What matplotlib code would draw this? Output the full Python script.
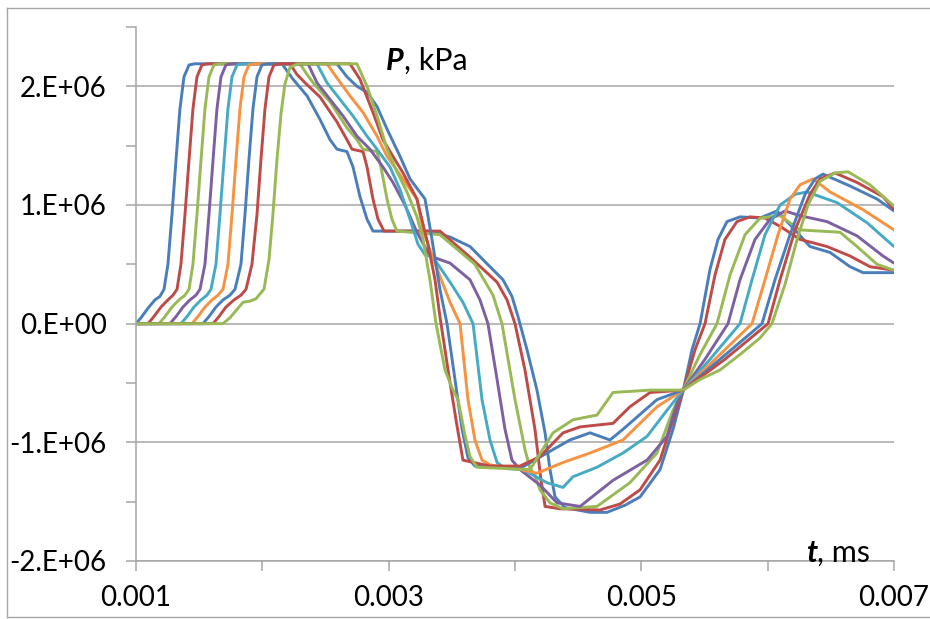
import numpy as np
import matplotlib
matplotlib.use("Agg")
import matplotlib.pyplot as plt
from matplotlib.lines import Line2D

plt.rcParams["font.family"] = ["Lato", "DejaVu Sans"]

# время в единицах 1e-3 мс, давление в единицах 1e6 кПа
t0 = [1.000, 1.040, 1.095, 1.150, 1.190, 1.222, 1.253, 1.285, 1.317, 1.348, 1.380, 1.420, 1.467,
      2.156, 2.195, 2.243, 2.354, 2.457, 2.536, 2.591, 2.670, 2.718, 2.773, 2.829, 2.876,
      3.129, 3.327, 3.486, 3.644, 3.802, 3.905, 3.976, 4.024, 4.095, 4.174, 4.238, 4.277, 4.317,
      4.396, 4.594, 4.728, 4.871, 4.990, 5.148, 5.251, 5.330,
      5.401, 5.465, 5.544, 5.607, 5.678, 5.781, 5.940, 6.074, 6.233, 6.335, 6.494, 6.652, 6.755, 7.000]
p0 = [0, 0.05, 0.13, 0.20, 0.23, 0.29, 0.50, 0.92, 1.38, 1.81, 2.08, 2.18, 2.19,
      2.19, 2.13, 2.06, 1.92, 1.72, 1.55, 1.47, 1.45, 1.32, 1.07, 0.88, 0.78,
      0.78, 0.78, 0.73, 0.65, 0.48, 0.37, 0.23, 0.06, -0.22, -0.56, -0.92, -1.23, -1.46,
      -1.55, -1.59, -1.59, -1.53, -1.46, -1.23, -0.89, -0.57,
      -0.22, 0, 0.46, 0.71, 0.86, 0.90, 0.89, 0.95, 0.77, 0.65, 0.60, 0.48, 0.43, 0.43]

t1 = [1.000, 1.095, 1.142, 1.198, 1.253, 1.293, 1.325, 1.356, 1.388, 1.420, 1.451, 1.483, 1.522, 1.570,
      2.219, 2.274, 2.338, 2.457, 2.591, 2.670, 2.710, 2.797, 2.829, 2.876, 2.916, 2.963,
      3.406, 3.644, 3.858, 3.937, 4.000, 4.079, 4.158, 4.206, 4.238, 4.356, 4.673, 4.831, 4.990,
      5.148, 5.251, 5.330,
      5.425, 5.504, 5.583, 5.662, 5.757, 5.860, 5.979, 6.098, 6.256, 6.470, 6.652, 6.810, 7.000]
p1 = [0, 0, 0.06, 0.14, 0.20, 0.24, 0.29, 0.50, 0.92, 1.38, 1.81, 2.08, 2.18, 2.19,
      2.19, 2.10, 2.03, 1.91, 1.70, 1.55, 1.47, 1.45, 1.32, 1.05, 0.88, 0.78,
      0.78, 0.56, 0.35, 0.20, 0, -0.39, -0.89, -1.32, -1.54, -1.56, -1.57, -1.52, -1.40,
      -1.15, -0.81, -0.57,
      -0.22, 0, 0.41, 0.71, 0.86, 0.90, 0.89, 0.82, 0.71, 0.65, 0.57, 0.48, 0.45]

t2 = [1.000, 1.182, 1.230, 1.285, 1.340, 1.388, 1.420, 1.451, 1.483, 1.515, 1.546, 1.578, 1.617, 1.665,
      2.298, 2.354, 2.417, 2.536, 2.670, 2.749, 2.797, 2.908, 2.939, 2.987, 3.026, 3.066,
      3.406, 3.683, 3.826, 3.897, 4.000, 4.079, 4.119, 4.158, 4.198, 4.277, 4.380, 4.649, 4.910,
      5.124, 5.251, 5.330,
      5.465, 5.599, 5.702, 5.821, 5.940, 6.098, 6.256, 6.414, 6.573, 6.707, 6.866, 7.000]
p2 = [0, 0, 0.06, 0.14, 0.20, 0.24, 0.29, 0.50, 0.92, 1.38, 1.81, 2.08, 2.18, 2.19,
      2.19, 2.10, 2.01, 1.87, 1.65, 1.55, 1.47, 1.45, 1.32, 1.05, 0.88, 0.78,
      0.75, 0.50, 0.24, 0, -0.64, -1.06, -1.22, -1.28, -1.40, -1.51, -1.56, -1.54, -1.34,
      -1.09, -0.73, -0.56,
      -0.26, 0, 0.41, 0.75, 0.89, 0.91, 0.79, 0.78, 0.77, 0.65, 0.50, 0.45]

t3 = [1.000, 1.269, 1.317, 1.372, 1.427, 1.475, 1.507, 1.546, 1.578, 1.610, 1.641, 1.673, 1.712, 1.760,
      2.362, 2.433, 2.536, 2.639, 2.749, 2.852, 2.955, 3.034, 3.129, 3.224, 3.327, 3.486, 3.644,
      3.723, 3.786,
      3.858, 3.921, 3.976, 4.040, 4.198, 4.333, 4.515, 4.776, 5.045, 5.203, 5.282, 5.330,
      5.504, 5.686, 5.781, 5.900, 6.019, 6.137, 6.256, 6.470, 6.707, 6.913, 7.000]
p3 = [0, 0, 0.06, 0.14, 0.20, 0.24, 0.29, 0.50, 0.92, 1.38, 1.81, 2.08, 2.18, 2.19,
      2.19, 2.03, 1.89, 1.75, 1.58, 1.47, 1.32, 1.19, 1.00, 0.77, 0.57, 0.51, 0.37,
      0.20, 0,
      -0.47, -0.89, -1.15, -1.23, -1.36, -1.51, -1.54, -1.32, -1.15, -0.95, -0.67, -0.56,
      -0.30, 0, 0.37, 0.71, 0.88, 0.95, 0.91, 0.86, 0.74, 0.57, 0.51]

t4 = [1.000, 1.356, 1.404, 1.459, 1.515, 1.562, 1.594, 1.633, 1.665, 1.697, 1.728, 1.760, 1.800, 1.847,
      2.433, 2.512, 2.615, 2.718, 2.829, 2.908, 3.011, 3.090, 3.169, 3.232, 3.288, 3.351, 3.486,
      3.588, 3.668,
      3.739, 3.802, 3.858, 3.921, 4.063, 4.253, 4.380, 4.459, 4.649, 4.855, 5.045, 5.203, 5.330,
      5.544, 5.781, 5.876, 5.979, 6.098, 6.217, 6.311, 6.549, 6.787, 7.000]
p4 = [0, 0, 0.06, 0.14, 0.20, 0.24, 0.29, 0.50, 0.92, 1.38, 1.81, 2.08, 2.18, 2.19,
      2.19, 2.03, 1.89, 1.75, 1.58, 1.47, 1.32, 1.13, 0.88, 0.67, 0.58, 0.56, 0.35,
      0.18, 0,
      -0.64, -0.98, -1.17, -1.22, -1.23, -1.34, -1.38, -1.29, -1.21, -1.09, -0.95, -0.73, -0.56,
      -0.30, 0, 0.37, 0.75, 1.00, 1.09, 1.11, 1.02, 0.85, 0.65]

t5 = [1.000, 1.443, 1.491, 1.546, 1.602, 1.649, 1.689, 1.728, 1.760, 1.792, 1.823, 1.855, 1.894, 1.942,
      2.512, 2.591, 2.694, 2.797, 2.908, 2.987, 3.106, 3.224, 3.272, 3.327, 3.406, 3.486, 3.565,
      3.628, 3.683, 3.739, 3.802, 4.000, 4.174, 4.380, 4.594, 4.855, 5.124, 5.330,
      5.583, 5.876, 5.979, 6.082, 6.177, 6.256, 6.359, 6.494, 6.755, 7.000]
p5 = [0, 0, 0.06, 0.14, 0.20, 0.24, 0.29, 0.50, 0.92, 1.38, 1.81, 2.08, 2.18, 2.19,
      2.19, 2.07, 1.92, 1.78, 1.58, 1.41, 1.23, 1.05, 0.79, 0.62, 0.40, 0.18, 0,
      -0.64, -0.98, -1.15, -1.19, -1.22, -1.26, -1.17, -1.09, -0.98, -0.70, -0.56,
      -0.30, 0, 0.37, 0.75, 1.05, 1.17, 1.22, 1.11, 0.96, 0.79]

t6 = [1.000, 1.530, 1.578, 1.633, 1.689, 1.744, 1.784, 1.831, 1.863, 1.894, 1.926, 1.958, 1.997, 2.045,
      2.591, 2.670, 2.749, 2.829, 2.908, 2.987, 3.090, 3.169, 3.288, 3.343, 3.406, 3.462,
      3.525, 3.581, 3.628, 3.683, 4.040, 4.253, 4.435, 4.594, 4.752, 4.855, 5.124, 5.330,
      5.623, 5.955, 6.058, 6.177, 6.296, 6.375, 6.438, 6.652, 6.866, 7.000]
p6 = [0, 0, 0.06, 0.14, 0.20, 0.24, 0.29, 0.50, 0.92, 1.38, 1.81, 2.08, 2.18, 2.19,
      2.19, 2.08, 2.00, 1.95, 1.83, 1.64, 1.41, 1.22, 1.05, 0.71, 0.29, 0,
      -0.47, -0.89, -1.13, -1.20, -1.22, -1.09, -0.98, -0.92, -0.98, -0.89, -0.64, -0.56,
      -0.30, 0, 0.37, 0.75, 1.09, 1.22, 1.26, 1.16, 1.05, 0.95]

t7 = [1.000, 1.610, 1.657, 1.712, 1.776, 1.831, 1.871, 1.918, 1.958, 1.989, 2.021, 2.053, 2.092, 2.140,
      2.694, 2.773, 2.876, 2.955, 3.034, 3.114, 3.224, 3.311, 3.367, 3.406, 3.470, 3.533, 3.588,
      3.802, 4.040, 4.198, 4.380, 4.515, 4.776, 4.910, 5.069, 5.330,
      5.662, 6.003, 6.098, 6.217, 6.335, 6.414, 6.533, 6.707, 6.913, 7.000]
p7 = [0, 0, 0.06, 0.14, 0.20, 0.24, 0.29, 0.50, 0.92, 1.38, 1.81, 2.08, 2.18, 2.19,
      2.19, 2.06, 1.78, 1.55, 1.41, 1.27, 1.05, 0.67, 0.37, 0.06, -0.39, -0.81, -1.15,
      -1.20, -1.20, -1.12, -0.92, -0.87, -0.84, -0.70, -0.58, -0.56,
      -0.30, 0, 0.37, 0.79, 1.09, 1.22, 1.27, 1.19, 1.07, 0.96]

t8 = [1.000, 1.689, 1.744, 1.800, 1.847, 1.902, 1.950, 2.013, 2.053, 2.084, 2.116, 2.148, 2.179, 2.219, 2.282,
      2.749, 2.829, 2.908, 2.987, 3.066, 3.145, 3.224, 3.272, 3.327, 3.375,
      3.446, 3.509, 3.549, 3.604, 3.644, 3.699, 4.119, 4.301, 4.459, 4.649, 4.776, 5.069, 5.330,
      5.465, 5.623, 5.781, 5.940, 6.034, 6.137, 6.233, 6.319, 6.414, 6.533, 6.636, 6.810, 7.000]
p8 = [0, 0, 0.05, 0.12, 0.18, 0.19, 0.21, 0.29, 0.54, 0.92, 1.38, 1.77, 2.02, 2.16, 2.19,
      2.19, 2.00, 1.75, 1.47, 1.28, 1.11, 0.90, 0.71, 0.37, 0,
      -0.39, -0.56, -0.64, -0.94, -1.12, -1.21, -1.23, -0.92, -0.81, -0.77, -0.58, -0.56, -0.56,
      -0.47, -0.39, -0.26, -0.12, 0, 0.33, 0.71, 1.00, 1.20, 1.27, 1.28, 1.17, 0.99]

series = [(t0, p0), (t1, p1), (t2, p2), (t3, p3), (t4, p4),
          (t5, p5), (t6, p6), (t7, p7), (t8, p8)]

# цвета Excel
colors = ["#4A7EBB", "#BE4B48", "#98B954", "#7D60A0", "#46AAC5",
          "#F69240", "#4A7EBB", "#BE4B48", "#98B954"]

x_ticks = [0.001, 0.002, 0.003, 0.004, 0.005, 0.006, 0.007]
x_labels = ["0.001", "", "0.003", "", "0.005", "", "0.007"]
y_ticks = [-2e6, -1e6, 0, 1e6, 2e6]
y_labels = ["-2.E+06", "-1.E+06", "0.E+00", "1.E+06", "2.E+06"]
y_minor = [-1.5e6, -0.5e6, 0.5e6, 1.5e6, 2.5e6]

fig = plt.figure(figsize=(9.3, 6.19), dpi=100)
ax = fig.add_axes([0.1462, 0.0937, 0.8151, 0.8627])

for (t, p), c in zip(series, colors):
    ax.plot(np.array(t) * 1e-3, np.array(p) * 1e6, color=c, lw=2.1,
            solid_joinstyle="round", solid_capstyle="round")

ax.set_xlim(0.001, 0.007)
ax.set_ylim(-2e6, 2.5e6)
ax.set_xticks(x_ticks)
ax.set_xticklabels(x_labels)
ax.set_yticks(y_ticks)
ax.set_yticklabels(y_labels)
ax.set_yticks(y_minor, minor=True)

ax.grid(axis="y", which="major", color="#A6A6A6", lw=1.1)
ax.set_axisbelow(True)
for s in ["top", "right"]:
    ax.spines[s].set_visible(False)
for s in ["left", "bottom"]:
    ax.spines[s].set_color("#A6A6A6")
    ax.spines[s].set_linewidth(1.1)

ax.tick_params(axis="both", which="both", direction="out", length=7, width=1.1,
               color="#A6A6A6", labelsize=20, labelcolor="black")
ax.tick_params(axis="y", which="major", pad=14)
ax.tick_params(axis="x", which="major", pad=10)

# подписи осей
p_lbl = fig.text(386 / 930, 1 - 61 / 619, "P", fontsize=22, fontweight="bold",
                 style="italic", va="center", ha="left")
fig.texts.append(plt.Annotation(", kPa", xy=(1, 0), xycoords=p_lbl, va="bottom",
                                ha="left", fontsize=22))
t_lbl = fig.text(806 / 930, 1 - 553 / 619, "t", fontsize=22, fontweight="bold",
                 style="italic", va="center", ha="left")
fig.texts.append(plt.Annotation(", ms", xy=(1, 0), xycoords=t_lbl, va="bottom",
                                ha="left", fontsize=22))
for a in fig.texts[-3:]:
    a.set_figure(fig)

# рамка области диаграммы
fig.add_artist(Line2D([7 / 930, 7 / 930], [2 / 619, 1 - 8 / 619], color="#A6A6A6", lw=1.0))
fig.add_artist(Line2D([7 / 930, 1.0], [1 - 8 / 619, 1 - 8 / 619], color="#A6A6A6", lw=1.0))
fig.add_artist(Line2D([7 / 930, 1.0], [2 / 619, 2 / 619], color="#A6A6A6", lw=1.0))

fig.savefig("out.png", dpi=100)
